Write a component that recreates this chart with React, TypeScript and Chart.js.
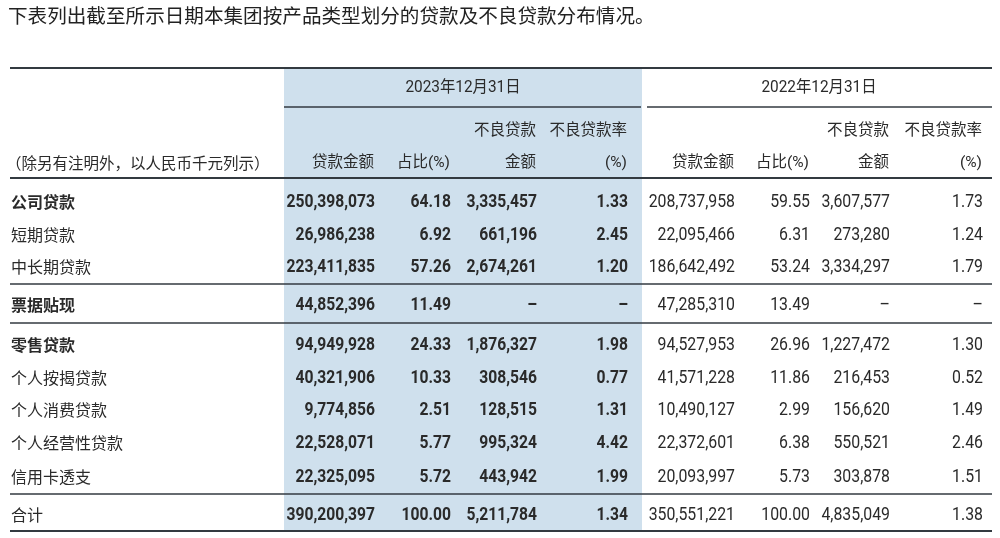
import React, { useEffect, useRef } from "react";
import { Chart, registerables } from "chart.js";

Chart.register(...registerables);

// ---------- data ----------
const title = "下表列出截至所示日期本集团按产品类型划分的贷款及不良贷款分布情况。";
const periods = ["2023年12月31日", "2022年12月31日"];
const unitNote = "（除另有注明外，以人民币千元列示）";
const headerTop = ["", "", "不良贷款", "不良贷款率"];
const headerBottom = ["贷款金额", "占比(%)", "金额", "(%)"];
const categories = [
  "公司贷款",
  "短期贷款",
  "中长期贷款",
  "票据贴现",
  "零售贷款",
  "个人按揭贷款",
  "个人消费贷款",
  "个人经营性贷款",
  "信用卡透支",
  "合计",
];
const subtotalRows = ["公司贷款", "票据贴现", "零售贷款"];

const loans2023 = [250398073, 26986238, 223411835, 44852396, 94949928, 40321906, 9774856, 22528071, 22325095, 390200397];
const share2023 = [64.18, 6.92, 57.26, 11.49, 24.33, 10.33, 2.51, 5.77, 5.72, 100.0];
const npl2023 = [3335457, 661196, 2674261, null, 1876327, 308546, 128515, 995324, 443942, 5211784];
const nplRatio2023 = [1.33, 2.45, 1.2, null, 1.98, 0.77, 1.31, 4.42, 1.99, 1.34];

const loans2022 = [208737958, 22095466, 186642492, 47285310, 94527953, 41571228, 10490127, 22372601, 20093997, 350551221];
const share2022 = [59.55, 6.31, 53.24, 13.49, 26.96, 11.86, 2.99, 6.38, 5.73, 100.0];
const npl2022 = [3607577, 273280, 3334297, null, 1227472, 216453, 156620, 550521, 303878, 4835049];
const nplRatio2022 = [1.73, 1.24, 1.79, null, 1.3, 0.52, 1.49, 2.46, 1.51, 1.38];

// ---------- layout (scale units) ----------
const colRight = [375, 451, 537, 628, 735, 810, 890, 983];
const rowY = [202, 235, 267, 305, 345, 378, 410, 443, 477, 515];
const separatorAfter = [2, 3, 8];
const tableLeft = 10;
const tableRight = 992;
const bandLeft = 284;
const bandRight = 642;
const topLine = 68;
const periodLine = 107;
const headerLine = 178;
const bottomLine = 531;

const CJK = "'Noto Sans CJK SC'";
const NUM = "Roboto, 'Noto Sans CJK SC'";
const TEXT = "#2a2a2a";

const fmtInt = (v: number | null) => (v === null ? "–" : v.toLocaleString("en-US"));
const fmtPct = (v: number | null) => (v === null ? "–" : v.toFixed(2));

function drawText(
  ctx: CanvasRenderingContext2D,
  text: string,
  x: number,
  y: number,
  font: string,
  align: CanvasTextAlign,
  sx: number,
  color = TEXT
) {
  ctx.save();
  ctx.font = font;
  ctx.fillStyle = color;
  ctx.textBaseline = "middle";
  ctx.textAlign = align;
  ctx.translate(x, y);
  ctx.scale(sx, 1);
  ctx.fillText(text, 0, 0);
  ctx.restore();
}

const tablePlugin = {
  id: "tablePlugin",
  afterDraw(chart: any) {
    const ctx: CanvasRenderingContext2D = chart.ctx;
    const xs = chart.scales.x;
    const ys = chart.scales.y;
    const X = (v: number) => xs.getPixelForValue(v);
    const Y = (v: number) => ys.getPixelForValue(v);

    // band
    ctx.save();
    ctx.fillStyle = "#cfe0ed";
    ctx.fillRect(X(bandLeft), Y(topLine), X(bandRight) - X(bandLeft), Y(bottomLine) - Y(topLine));
    ctx.restore();

    const hline = (x1: number, x2: number, y: number, w: number) => {
      ctx.save();
      ctx.strokeStyle = "#333a40";
      ctx.lineWidth = w;
      ctx.beginPath();
      ctx.moveTo(X(x1), Y(y));
      ctx.lineTo(X(x2), Y(y));
      ctx.stroke();
      ctx.restore();
    };
    hline(tableLeft, tableRight, topLine, 2);
    hline(bandLeft, bandRight - 1, periodLine, 1.5);
    hline(bandRight + 5, tableRight, periodLine, 1.5);
    hline(tableLeft, tableRight, headerLine, 2);
    separatorAfter.forEach((r) => {
      const y = (rowY[r] + rowY[r + 1]) / 2 - 2;
      hline(tableLeft, tableRight, y, 1.5);
    });
    hline(tableLeft, tableRight, bottomLine, 2);

    // title
    drawText(ctx, title, X(8), Y(16), `19.6px ${CJK}`, "left", 1, "#222");

    // period headers
    drawText(ctx, periods[0], X((bandLeft + bandRight) / 2), Y(88), `16px ${NUM}`, "center", 0.96);
    drawText(ctx, periods[1], X((bandRight + tableRight) / 2 + 2), Y(88), `16px ${NUM}`, "center", 0.96);

    // column headers
    for (let p = 0; p < 2; p++) {
      for (let c = 0; c < 4; c++) {
        const xr = colRight[p * 4 + c] - 1;
        if (headerTop[c]) drawText(ctx, headerTop[c], X(xr), Y(131), `15.5px ${NUM}`, "right", 1);
        drawText(ctx, headerBottom[c], X(xr), Y(163), `15.5px ${NUM}`, "right", 1);
      }
    }
    drawText(ctx, unitNote, X(tableLeft - 4), Y(163), `15.5px ${CJK}`, "left", 1);

    // rows
    const cols2023 = [loans2023.map(fmtInt), share2023.map(fmtPct), npl2023.map(fmtInt), nplRatio2023.map(fmtPct)];
    const cols2022 = [loans2022.map(fmtInt), share2022.map(fmtPct), npl2022.map(fmtInt), nplRatio2022.map(fmtPct)];
    categories.forEach((cat, i) => {
      const y = Y(rowY[i]);
      const bold = subtotalRows.includes(cat);
      drawText(ctx, cat, X(tableLeft + 1), y, `${bold ? "bold " : ""}16px ${CJK}`, "left", 1);
      cols2023.forEach((col, c) => {
        drawText(ctx, col[i], X(colRight[c]), y, `bold 18px ${NUM}`, "right", 0.87);
      });
      cols2022.forEach((col, c) => {
        drawText(ctx, col[i], X(colRight[4 + c]), y, `18px ${NUM}`, "right", 0.88);
      });
    });
  },
};

export default function App() {
  const ref = useRef<HTMLCanvasElement | null>(null);
  useEffect(() => {
    document.body.style.margin = "0";
    document.body.style.background = "#ffffff";
    const canvas = ref.current!;
    const chart = new Chart(canvas, {
      type: "scatter",
      data: { datasets: [{ data: [], pointRadius: 0 }] },
      options: {
        animation: false,
        responsive: false,
        events: [],
        layout: { padding: 0 },
        plugins: { legend: { display: false }, tooltip: { enabled: false } },
        scales: {
          x: { type: "linear", min: 0, max: 1000, display: false },
          y: { type: "linear", min: 0, max: 538, reverse: true, display: false },
        },
      },
      plugins: [tablePlugin],
    });
    return () => chart.destroy();
  }, []);
  return (
    <div style={{ width: 1000, height: 538, overflow: "hidden", background: "#fff" }}>
      <canvas ref={ref} width={1000} height={538} style={{ display: "block" }} />
    </div>
  );
}
